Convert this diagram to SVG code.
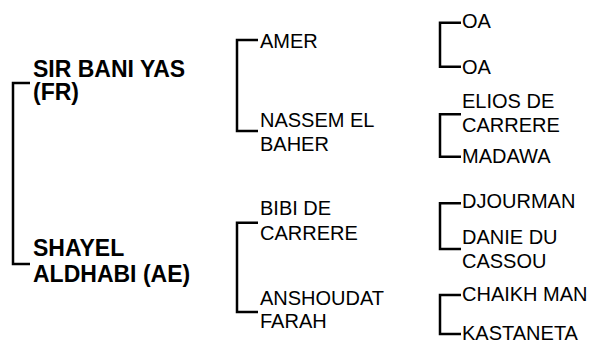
<svg xmlns="http://www.w3.org/2000/svg" width="599" height="343" viewBox="0 0 599 343">
<style>
.b{font-family:"Liberation Sans",Arial,sans-serif;font-weight:bold;font-size:23px;fill:#000}
.r{font-family:"Liberation Sans",Arial,sans-serif;font-size:20px;fill:#000}
.c{fill:none;stroke:#000;stroke-width:2.5;stroke-linejoin:miter;stroke-linecap:butt}
</style>
<rect width="599" height="343" fill="#fff"/>
<g id="connectors">
<path class="c" d="M30,83 H13 V264 H30"/>
<path class="c" d="M258,40 H237 V131 H258"/>
<path class="c" d="M258,222.7 H237 V312 H258"/>
<path class="c" d="M461,22.7 H440 V66.7 H461"/>
<path class="c" d="M461,114.3 H440 V156.7 H461"/>
<path class="c" d="M461,203.3 H440 V249 H461"/>
<path class="c" d="M461,295 H440 V334 H461"/>
</g>
<g id="sir-bani-yas"><text class="b" x="33" y="76.7">SIR BANI YAS</text><text class="b" x="33" y="100">(FR)</text></g>
<g id="shayel-aldhabi"><text class="b" x="33" y="256">SHAYEL</text><text class="b" x="33" y="281.7">ALDHABI (AE)</text></g>
<g id="amer"><text class="r" x="260" y="47.7">AMER</text></g>
<g id="nassem-el-baher"><text class="r" x="260" y="126.7">NASSEM EL</text><text class="r" x="260" y="150.7">BAHER</text></g>
<g id="bibi-de-carrere"><text class="r" x="260" y="215">BIBI DE</text><text class="r" x="260" y="240">CARRERE</text></g>
<g id="anshoudat-farah"><text class="r" x="260" y="305">ANSHOUDAT</text><text class="r" x="260" y="328">FARAH</text></g>
<g id="oa-1"><text class="r" x="462" y="28">OA</text></g>
<g id="oa-2"><text class="r" x="462" y="74">OA</text></g>
<g id="elios-de-carrere"><text class="r" x="462" y="108.3">ELIOS DE</text><text class="r" x="462" y="131.7">CARRERE</text></g>
<g id="madawa"><text class="r" x="462" y="163">MADAWA</text></g>
<g id="djourman"><text class="r" x="462" y="208">DJOURMAN</text></g>
<g id="danie-du-cassou"><text class="r" x="462" y="244">DANIE DU</text><text class="r" x="462" y="268">CASSOU</text></g>
<g id="chaikh-man"><text class="r" x="462" y="301">CHAIKH MAN</text></g>
<g id="kastaneta"><text class="r" x="462" y="340">KASTANETA</text></g>
</svg>
